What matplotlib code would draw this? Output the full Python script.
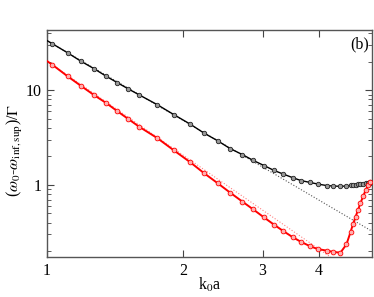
import matplotlib
matplotlib.use("Agg")
import matplotlib.pyplot as plt
from matplotlib.ticker import FixedLocator, LogLocator, NullFormatter, NullLocator

plt.rcParams['font.family'] = ['Liberation Serif', 'DejaVu Serif']
plt.rcParams['mathtext.fontset'] = 'stix'

# k0 a grid
k0a = [1.0, 1.027, 1.111, 1.189, 1.27, 1.353, 1.431, 1.514, 1.601, 1.754, 1.910, 2.073,
       2.226, 2.387, 2.541, 2.706, 2.861, 3.022, 3.18, 3.334, 3.499, 3.649, 3.821,
       3.974, 4.16, 4.30, 4.46, 4.60, 4.70, 4.76, 4.82, 4.88, 4.94, 5.01, 5.08, 5.14, 5.20]

# black series (sup)
black_y = [33.4, 31.0, 24.8, 20.2, 16.9, 14.0, 12.0, 10.3, 8.9, 7.03, 5.51, 4.39,
           3.52, 2.92, 2.42, 2.09, 1.81, 1.60, 1.42, 1.30, 1.19, 1.11, 1.06,
           1.02, 0.983, 0.972, 0.965, 0.972, 0.99, 1.0, 1.007, 1.017, 1.025, 1.032, 1.042, 1.05, 1.068]

# red series (inf)
red_y = [20.3, 18.6, 14.0, 11.1, 8.9, 7.3, 6.0, 4.95, 4.1, 3.12, 2.31, 1.74,
         1.33, 1.04, 0.83, 0.666, 0.55, 0.453, 0.38, 0.325, 0.28, 0.25, 0.225,
         0.21, 0.202, 0.196, 0.192, 0.235, 0.32, 0.39, 0.46, 0.545, 0.64, 0.76, 0.89, 1.0, 1.08]

# power-law guide lines (endpoints)
black_fit_x = [1.0, 5.25]
black_fit_y = [33.4, 0.322]
red_fit_x = [1.0, 4.4]
red_fit_y = [20.3, 0.153]

fig = plt.figure(figsize=(3.74, 2.97), dpi=100)
ax = fig.add_axes([47/374, 40/297, 325/374, 227/297])

ax.plot(black_fit_x, black_fit_y, color='#555555', ls=':', lw=0.8, zorder=1)
ax.plot(red_fit_x, red_fit_y, color='#ff8080', ls=':', lw=0.8, zorder=1)

ax.plot(k0a, black_y, color='black', lw=1.0, marker='o', ms=3.2, mfc='#999999',
        mec='#222222', mew=0.6, markevery=slice(1, None), zorder=3)
ax.plot(k0a, red_y, color='red', lw=1.4, marker='o', ms=3.4, mfc='#ffb0b0',
        mec='red', mew=0.6, markevery=slice(1, None), zorder=3)

ax.set_xscale('log')
ax.set_yscale('log')
ax.set_xlim(1.0, 5.24)
ax.set_ylim(0.173, 43.2)

ax.xaxis.set_major_locator(FixedLocator([1, 2, 3, 4]))
ax.xaxis.set_minor_locator(NullLocator())
ax.set_xticklabels(['1', '2', '3', '4'])
ax.yaxis.set_major_locator(FixedLocator([1, 10]))
ax.set_yticklabels(['1', '10'])
ax.yaxis.set_minor_locator(LogLocator(base=10, subs=[2, 3, 4, 5, 6, 7, 8, 9]))
ax.yaxis.set_minor_formatter(NullFormatter())

ax.tick_params(which='both', direction='in', top=True, right=True, colors='#444444',
               labelcolor='black', labelsize=11.5)
ax.tick_params(which='major', length=5, width=0.8, pad=4)
ax.tick_params(which='minor', length=3, width=0.6)
for s in ax.spines.values():
    s.set_color('#555555')
    s.set_linewidth(1.0)

fig.text(210/374, 1 - 285/297, r'k$_0$a', fontsize=11.5, ha='center', va='center')
fig.text(15/374, 1 - 150/297, r'($\omega_0$-$\omega_{\rm inf,sup}$)/$\Gamma$',
         fontsize=11.5, ha='center', va='center', rotation=90)
ax.text(0.99, 0.97, '(b)', transform=ax.transAxes, ha='right', va='top', fontsize=11.5)

fig.savefig('out.png', dpi=100)
